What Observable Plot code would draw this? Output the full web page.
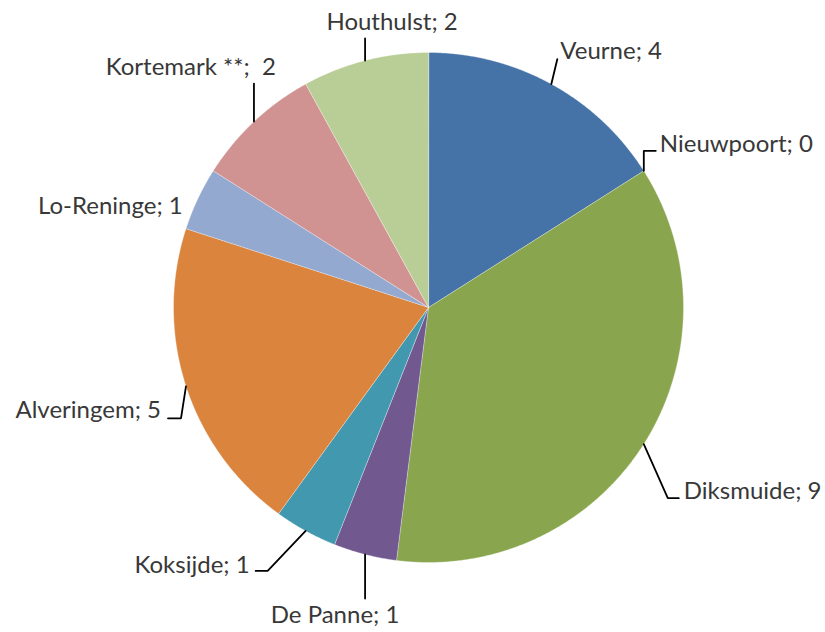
<!DOCTYPE html>
<html>
<head>
<meta charset="utf-8">
<script src="https://cdn.jsdelivr.net/npm/d3@7"></script>
<script src="https://cdn.jsdelivr.net/npm/@observablehq/plot@0.6"></script>
<style>
  html, body { margin: 0; padding: 0; background: #fff; }
  #chart { width: 825px; height: 632px; }
</style>
</head>
<body>
<div id="chart"></div>
<script>
// ---- data ----
const categories = ["Veurne", "Nieuwpoort", "Diksmuide", "De Panne", "Koksijde", "Alveringem", "Lo-Reninge", "Kortemark **", "Houthulst"];
const values = [4, 0, 9, 1, 1, 5, 1, 2, 2];
const labelTexts = ["Veurne; 4", "Nieuwpoort; 0", "Diksmuide; 9", "De Panne; 1", "Koksijde; 1", "Alveringem; 5", "Lo-Reninge; 1", "Kortemark **;\u00a0 2", "Houthulst; 2"];
const colors = ["#4572A7", "#AA4643", "#89A54E", "#71588F", "#4198AF", "#DB843D", "#93A9CF", "#D19392", "#B9CD96"];

// ---- layout (pixels) ----
const W = 825, H = 632;
const cx = 428, cy = 307, R = 255;
// leader layout relative to the slice's arc midpoint: elbow offset, horizontal tail, text offset, anchor
const leaderLayout = [
  {ex: 6,   ey: -25, tail: 0,   tx: 3,   ty: -8,  anchor: "start"},   // Veurne
  {ex: 0,   ey: -20, tail: 12,  tx: 4,   ty: -7,  anchor: "start"},   // Nieuwpoort
  {ex: 24,  ey: 54,  tail: 11,  tx: 5,   ty: -7,  anchor: "start"},   // Diksmuide
  {ex: 0,   ey: 44,  tail: 0,   tx: -30, ty: 17,  anchor: "middle"},  // De Panne
  {ex: -38, ey: 40,  tail: -12, tx: -6,  ty: -6,  anchor: "end"},     // Koksijde
  {ex: -5,  ey: 32,  tail: -13, tx: -7,  ty: -8,  anchor: "end"},     // Alveringem
  {ex: 0,   ey: 0,   tail: 0,   tx: -15, ty: 7,   anchor: "end", noLine: true}, // Lo-Reninge
  {ex: 0,   ey: -38, tail: 0,   tx: 22,  ty: -16, anchor: "end"},     // Kortemark
  {ex: 0,   ey: -22, tail: 0,   tx: 27,  ty: -16, anchor: "middle"}   // Houthulst
];

const pt = (a, r) => [cx + r * Math.sin(a), cy - r * Math.cos(a)];

const table = categories.map((name, i) => ({name, value: values[i], label: labelTexts[i]}));
const arcs = d3.pie().sort(null).value(d => d.value).startAngle(0).endAngle(2 * Math.PI)(table);

// slice polygons
const slicePts = [];
arcs.forEach(a => {
  if (a.endAngle - a.startAngle <= 0) return;
  slicePts.push({name: a.data.name, x: cx, y: cy});
  const n = Math.max(2, Math.ceil((a.endAngle - a.startAngle) / 0.005));
  for (let k = 0; k <= n; k++) {
    const ang = a.startAngle + (a.endAngle - a.startAngle) * k / n;
    const [x, y] = pt(ang, R);
    slicePts.push({name: a.data.name, x, y});
  }
});

// leaders and labels
const leaderPts = [];
const labels = [];
arcs.forEach((a, i) => {
  const L = leaderLayout[i];
  const mid = (a.startAngle + a.endAngle) / 2;
  const [ax, ay] = pt(mid, R);
  const exx = ax + L.ex, eyy = ay + L.ey;
  const txx = exx + L.tail;
  if (!L.noLine) {
    leaderPts.push({name: a.data.name, x: ax, y: ay});
    leaderPts.push({name: a.data.name, x: exx, y: eyy});
    if (L.tail !== 0) leaderPts.push({name: a.data.name, x: txx, y: eyy});
  }
  labels.push({label: a.data.label, x: txx + L.tx, y: eyy + L.ty, anchor: L.anchor});
});

const textOpts = anchor => ({
  x: "x", y: "y", text: "label", textAnchor: anchor,
  fontSize: 24, fill: "#383838", fontFamily: "Lato, 'Open Sans', sans-serif"
});

const chart = Plot.plot({
  width: W, height: H,
  margin: 0,
  x: {domain: [0, W], range: [0, W], axis: null},
  y: {domain: [0, H], range: [0, H], axis: null},
  color: {domain: categories, range: colors},
  style: {background: "#fff", fontFamily: "Lato, sans-serif"},
  marks: [
    Plot.line(slicePts, {x: "x", y: "y", z: "name", fill: "name", stroke: "#fff", strokeWidth: 0.5, strokeOpacity: 0.7, curve: "linear-closed"}),
    Plot.line(leaderPts, {x: "x", y: "y", z: "name", stroke: "#000", strokeWidth: 1.8, strokeLinejoin: "miter"}),
    Plot.text(labels.filter(d => d.anchor === "start"), textOpts("start")),
    Plot.text(labels.filter(d => d.anchor === "middle"), textOpts("middle")),
    Plot.text(labels.filter(d => d.anchor === "end"), textOpts("end"))
  ]
});
document.getElementById("chart").appendChild(chart);
</script>
</body>
</html>
